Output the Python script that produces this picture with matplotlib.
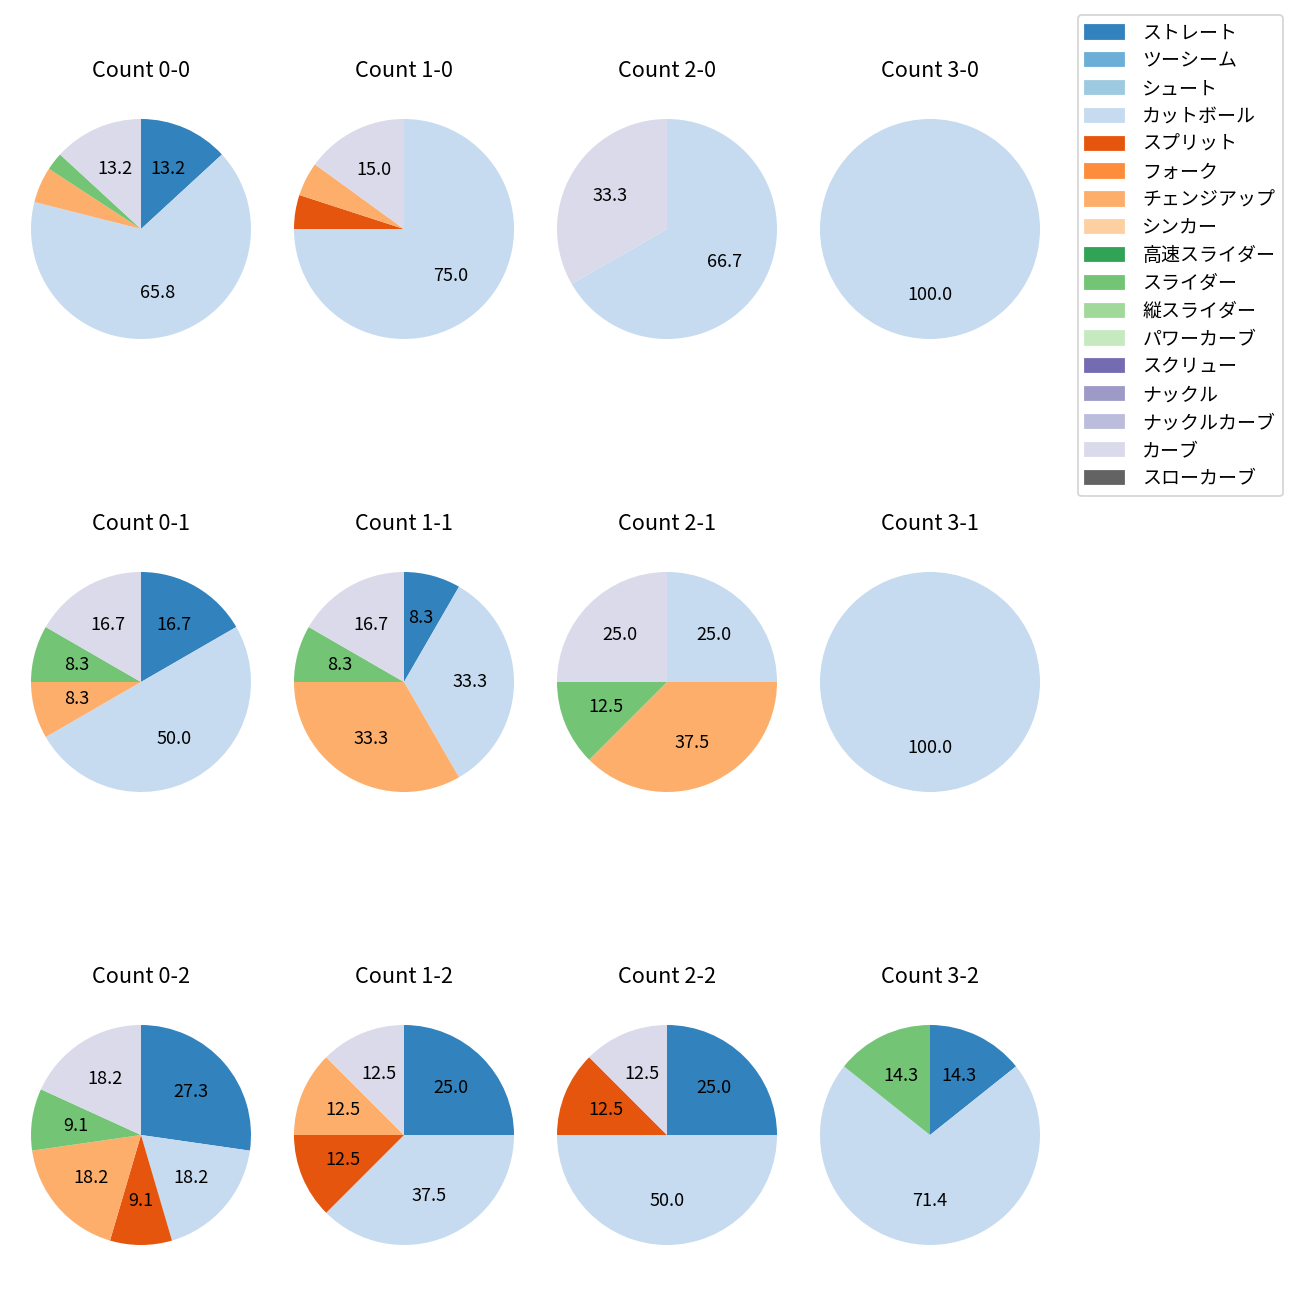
import matplotlib
matplotlib.use("Agg")
import matplotlib.pyplot as plt

plt.rcParams['font.family'] = ['Noto Sans CJK JP', 'DejaVu Sans']

# 球種（凡例の順）
pitch_types = ["ストレート", "ツーシーム", "シュート", "カットボール", "スプリット", "フォーク",
               "チェンジアップ", "シンカー", "高速スライダー", "スライダー", "縦スライダー",
               "パワーカーブ", "スクリュー", "ナックル", "ナックルカーブ", "カーブ", "スローカーブ"]

# カウント別の投球数（pitch_types と同じ順）
count_0_0 = [5, 0, 0, 25, 0, 0, 2, 0, 0, 1, 0, 0, 0, 0, 0, 5, 0]
count_1_0 = [0, 0, 0, 15, 1, 0, 1, 0, 0, 0, 0, 0, 0, 0, 0, 3, 0]
count_2_0 = [0, 0, 0, 2, 0, 0, 0, 0, 0, 0, 0, 0, 0, 0, 0, 1, 0]
count_3_0 = [0, 0, 0, 1, 0, 0, 0, 0, 0, 0, 0, 0, 0, 0, 0, 0, 0]
count_0_1 = [2, 0, 0, 6, 0, 0, 1, 0, 0, 1, 0, 0, 0, 0, 0, 2, 0]
count_1_1 = [1, 0, 0, 4, 0, 0, 4, 0, 0, 1, 0, 0, 0, 0, 0, 2, 0]
count_2_1 = [0, 0, 0, 2, 0, 0, 3, 0, 0, 1, 0, 0, 0, 0, 0, 2, 0]
count_3_1 = [0, 0, 0, 1, 0, 0, 0, 0, 0, 0, 0, 0, 0, 0, 0, 0, 0]
count_0_2 = [3, 0, 0, 2, 1, 0, 2, 0, 0, 1, 0, 0, 0, 0, 0, 2, 0]
count_1_2 = [2, 0, 0, 3, 1, 0, 1, 0, 0, 0, 0, 0, 0, 0, 0, 1, 0]
count_2_2 = [2, 0, 0, 4, 1, 0, 0, 0, 0, 0, 0, 0, 0, 0, 0, 1, 0]
count_3_2 = [1, 0, 0, 5, 0, 0, 0, 0, 0, 1, 0, 0, 0, 0, 0, 0, 0]

rows = [
    [("0-0", count_0_0), ("1-0", count_1_0), ("2-0", count_2_0), ("3-0", count_3_0)],
    [("0-1", count_0_1), ("1-1", count_1_1), ("2-1", count_2_1), ("3-1", count_3_1)],
    [("0-2", count_0_2), ("1-2", count_1_2), ("2-2", count_2_2), ("3-2", count_3_2)],
]

cmap = plt.get_cmap("tab20c")
colors = [cmap(i) for i in range(len(pitch_types))]

fig = plt.figure(figsize=(10, 10), dpi=130)

# 配置（ピクセル）
W = 1300
box = 275
col_cx = [141, 404, 667, 930]
row_cy = [229, 682, 1135]


def autopct(p):
    return f"{p:.1f}" if p >= 7 else ""


for r, row in enumerate(rows):
    for c, (label, vals) in enumerate(row):
        ax = fig.add_axes([(col_cx[c] - box / 2) / W, 1 - (row_cy[r] + box / 2) / W,
                           box / W, box / W])
        idx = [i for i, v in enumerate(vals) if v > 0]
        ax.pie([vals[i] for i in idx], colors=[colors[i] for i in idx],
               autopct=autopct, startangle=90, counterclock=False,
               textprops={"fontsize": 10})
        ax.set_title(f"Count {label}", fontsize=12, pad=8)

handles = [plt.Rectangle((0, 0), 1, 1, color=colors[i]) for i in range(len(pitch_types))]
fig.legend(handles, pitch_types, loc="upper right", fontsize=10.5,
           handlelength=2.06, handletextpad=0.95, labelspacing=0.36,
           bbox_to_anchor=(1283 / W, 1 - 15 / W), borderaxespad=0)

fig.savefig("out.png", dpi=130)
